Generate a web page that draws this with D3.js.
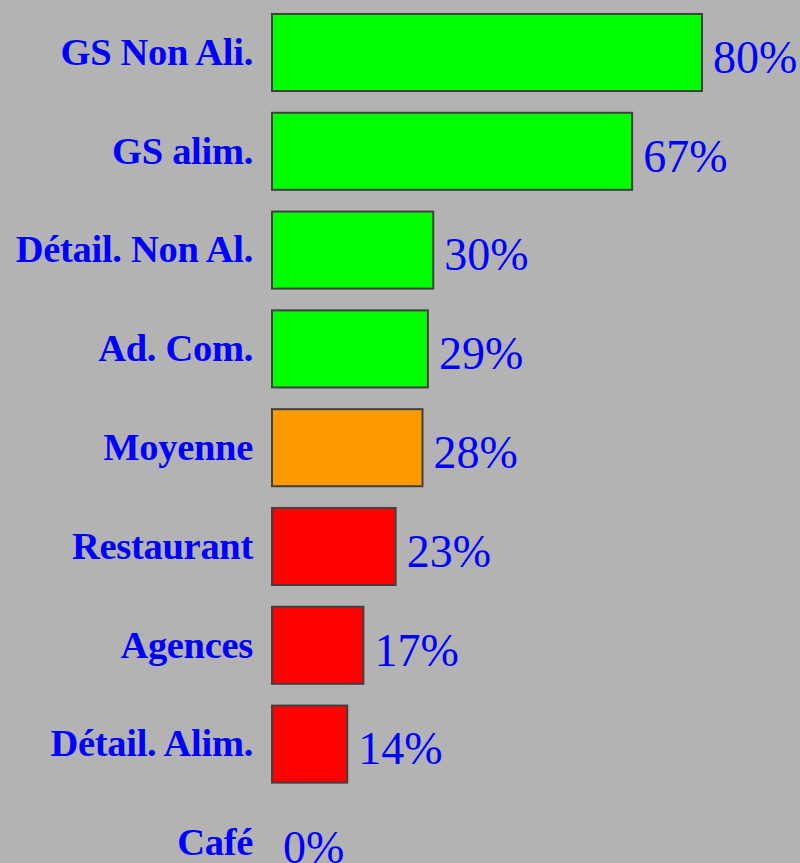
<!DOCTYPE html>
<html><head><meta charset="utf-8">
<script src="https://cdn.jsdelivr.net/npm/d3@7/dist/d3.min.js"></script>
<style>html,body{margin:0;padding:0;background:#b3b3b3;overflow:hidden}</style>
</head><body>
<script>
const categories = ["GS Non Ali.","GS alim.","Détail. Non Al.","Ad. Com.","Moyenne","Restaurant","Agences","Détail. Alim.","Café"];
const values = [80,67,30,29,28,23,17,14,0];
const groups = ["good","good","good","good","avg","bad","bad","bad","bad"];
const colorOf = {good:"#00ff00", avg:"#ff9900", bad:"#ff0000"};

const W = 800, H = 863;
const svg = d3.select("body").append("svg").attr("width",W).attr("height",H);
svg.append("rect").attr("width",W).attr("height",H).attr("fill","#b3b3b3");

const x = d3.scaleLinear().domain([0,80]).range([272,702]);
const y = d3.scaleBand().domain(categories).range([3.1, 3.1+9*98.8]).paddingInner(0.22).paddingOuter(0.11);

const g = svg.append("g");
categories.forEach((c,i)=>{
  const v = values[i];
  if (v > 0) {
    g.append("rect")
      .attr("x", x(0)).attr("y", y(c))
      .attr("width", x(v)-x(0)).attr("height", y.bandwidth())
      .attr("fill", colorOf[groups[i]])
      .attr("stroke","#404040").attr("stroke-width",2);
  }
  const cy = y(c) + y.bandwidth()/2;
  g.append("text")
    .attr("x", 253).attr("y", cy).attr("dy","0.32em")
    .attr("text-anchor","end")
    .attr("font-family","'Liberation Serif','Times New Roman',serif")
    .attr("font-weight","bold").attr("font-size",38.5)
    .attr("letter-spacing","-0.3")
    .attr("fill","#0000ff").text(c);
  g.append("text")
    .attr("x", x(v)+11).attr("y", cy).attr("dy","0.44em")
    .attr("font-family","'Liberation Serif','Times New Roman',serif")
    .attr("font-size",46)
    .attr("fill","#0000ff").text(v+"%");
});
</script>
</body></html>
